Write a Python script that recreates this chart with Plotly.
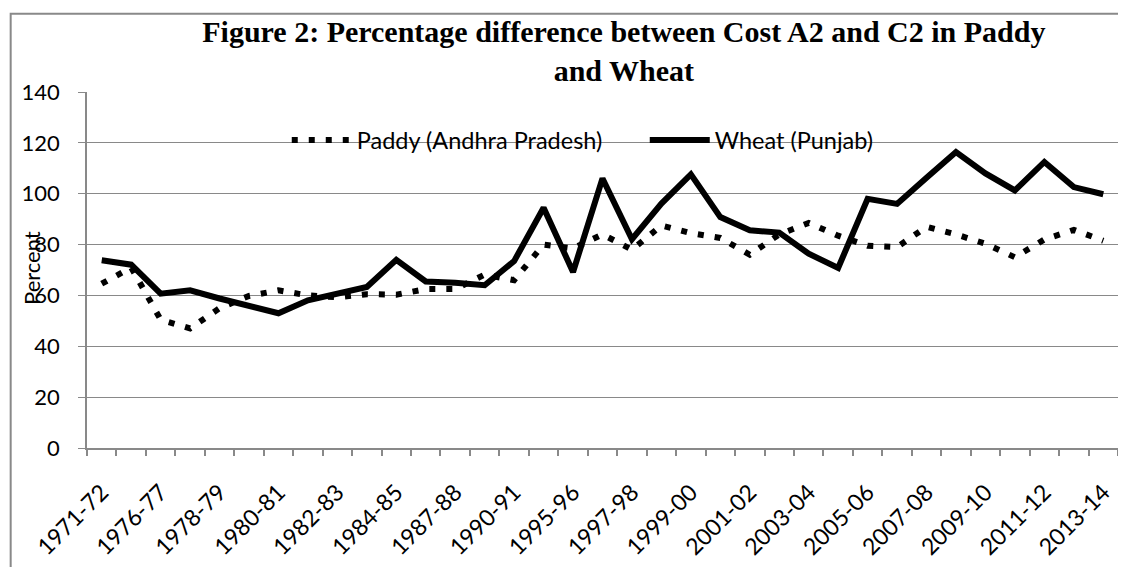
import plotly.graph_objects as go

categories = ["1971-72", "1975-76", "1976-77", "1977-78", "1978-79", "1979-80",
              "1980-81", "1981-82", "1982-83", "1983-84", "1984-85", "1985-86",
              "1987-88", "1988-89", "1990-91", "1993-94", "1995-96", "1996-97",
              "1997-98", "1998-99", "1999-00", "2000-01", "2001-02", "2002-03",
              "2003-04", "2004-05", "2005-06", "2006-07", "2007-08", "2008-09",
              "2009-10", "2010-11", "2011-12", "2012-13", "2013-14"]

paddy = [64.6, 71.0, 50.5, 47.0, 55.0, 59.8, 62.0, 60.0, 59.3, 60.5, 60.3, 62.5,
         62.5, 68.2, 66.0, 80.0, 78.5, 84.0, 78.0, 87.5, 84.5, 82.6, 76.0, 84.0,
         88.5, 83.5, 79.5, 79.0, 87.0, 84.0, 80.3, 75.0, 82.0, 85.8, 81.5]

wheat = [73.8, 72.1, 60.7, 62.0, 58.8, 55.8, 53.0, 58.1, 60.7, 63.3, 74.0, 65.5,
         65.0, 64.0, 73.5, 94.5, 69.2, 106.0, 82.1, 96.1, 107.6, 90.8, 85.6, 84.7,
         76.4, 70.8, 98.0, 96.0, 106.3, 116.4, 108.0, 101.3, 112.5, 102.6, 99.8]

series_names = ["Paddy (Andhra Pradesh)", "Wheat (Punjab)"]
title_text = "Figure 2: Percentage difference between Cost A2 and C2 in Paddy<br>and Wheat"

# page body has an 8px margin on every side; work in screen pixels
OFF = 8
W, H = 1126 - 2 * OFF, 575 - 2 * OFF
SL, SR, ST, SB = 87.3, 1118.0, 91.7, 447.7  # plot area in screen px
L, R, T, B = SL - OFF, W - (SR - OFF), ST - OFF, H - (SB - OFF)
pw, ph = W - L - R, H - T - B


def px_x(p):
    return (p - OFF - L) / pw


def px_y(p):
    return (H - B - (p - OFF)) / ph


GRAY = "#898989"
FONT = "Lato, 'Open Sans', sans-serif"

fig = go.Figure()
fig.add_trace(go.Scatter(x=categories, y=paddy, mode="lines", name=series_names[0],
                         line=dict(color="black", width=6, dash="6px,11px")))
fig.add_trace(go.Scatter(x=categories, y=wheat, mode="lines", name=series_names[1],
                         line=dict(color="black", width=6)))

# chart-area frame: only the left and top edges fall inside the picture
bx0, by0 = px_x(11), px_y(13.5)
bx1, by1 = px_x(1125), px_y(574)
frame_path = f"M {bx0} {by1} L {bx0} {by0} L {bx1} {by0}"

fig.update_layout(
    width=W, height=H,
    margin=dict(l=L, r=R, t=T, b=B, autoexpand=False),
    paper_bgcolor="white", plot_bgcolor="white",
    font=dict(family=FONT, size=22, color="black"),
    title=dict(text=title_text, x=px_x(624), xref="paper", xanchor="center",
               y=1 - 34 / H, yref="container", yanchor="top",
               font=dict(family="'Liberation Serif', 'Times New Roman', serif",
                         size=30, color="black", weight="bold")),
    showlegend=True,
    legend=dict(orientation="h", x=px_x(287), xanchor="left",
                y=px_y(140), yanchor="middle", bgcolor="rgba(0,0,0,0)",
                font=dict(family=FONT, size=23.5), entrywidth=283,
                itemwidth=60, traceorder="normal"),
    xaxis=dict(type="category", showgrid=False, showline=True, linecolor=GRAY,
               linewidth=1.5, ticks="outside", tickson="boundaries", ticklen=6,
               tickcolor=GRAY, tickwidth=1.5, tickangle=-45, ticklabelstep=2,
               ticklabelstandoff=20, range=[-0.5, len(categories) - 0.5],
               tickfont=dict(family=FONT, size=23)),
    yaxis=dict(range=[0, 140], dtick=20, showgrid=True, gridcolor=GRAY, gridwidth=1.3,
               showline=True, linecolor=GRAY, linewidth=1.5, ticks="outside",
               ticklen=7, tickcolor=GRAY, tickwidth=1.3, ticklabelstandoff=14,
               zeroline=False, tickfont=dict(family=FONT, size=22)),
    annotations=[dict(text="Percent", textangle=-90, xref="paper", yref="paper",
                      x=px_x(32), y=px_y(268), xanchor="center", yanchor="middle",
                      showarrow=False, font=dict(family=FONT, size=22))],
    shapes=[dict(type="path", xref="paper", yref="paper", path=frame_path,
                 line=dict(color=GRAY, width=2), layer="below")],
)

fig.write_html("out.html")
